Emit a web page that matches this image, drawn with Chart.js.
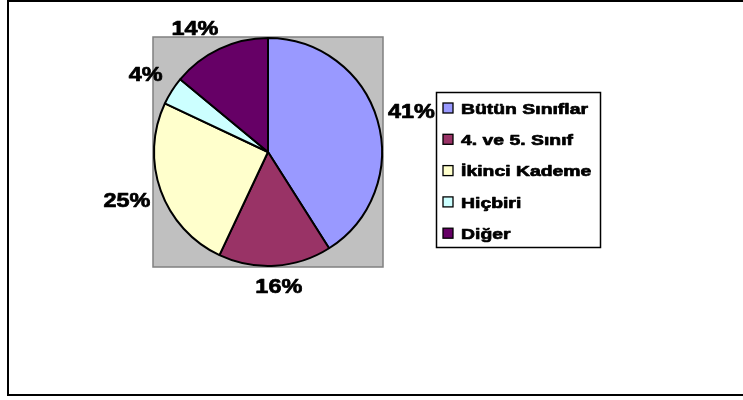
<!DOCTYPE html>
<html>
<head>
<meta charset="utf-8">
<script src="https://cdn.jsdelivr.net/npm/chart.js@4"></script>
<style>
    html, body { margin: 0; padding: 0; background: #fff; }
    #wrap { width: 743px; height: 400px; }
</style>
</head>
<body>
<div id="wrap"><canvas id="pieChart" width="743" height="400"></canvas></div>
<script>
const categories = ['Bütün Sınıflar', '4. ve 5. Sınıf', 'İkinci Kademe', 'Hiçbiri', 'Diğer'];
const shares = [41, 16, 25, 4, 14];
const sliceColors = ['#9999FF', '#993366', '#FFFFCC', '#CCFFFF', '#660066'];

const FONT = '"Liberation Sans", Arial, sans-serif';

// heavy, slightly widened text like the original
function wideText(ctx, txt, x, y, sx) {
    ctx.save();
    ctx.translate(x, y);
    ctx.scale(sx, 1);
    ctx.lineWidth = 0.7;
    ctx.strokeStyle = '#000';
    ctx.lineJoin = 'round';
    ctx.fillText(txt, 0, 0);
    ctx.strokeText(txt, 0, 0);
    ctx.restore();
}

// frame, grey plot area
const backdrop = {
    id: 'backdrop',
    beforeDraw(chart) {
        const ctx = chart.ctx;
        const area = chart.chartArea;
        ctx.save();
        ctx.fillStyle = '#fff';
        ctx.fillRect(0, 0, chart.width, chart.height);

        ctx.strokeStyle = '#000';
        ctx.lineWidth = 2;
        ctx.beginPath();
        ctx.moveTo(chart.width + 2, 1);
        ctx.lineTo(8, 1);
        ctx.lineTo(8, 395);
        ctx.lineTo(chart.width + 2, 395);
        ctx.stroke();

        ctx.fillStyle = '#C0C0C0';
        ctx.fillRect(area.left, area.top, area.width, area.height);
        ctx.strokeStyle = '#808080';
        ctx.lineWidth = 1.5;
        ctx.strokeRect(area.left, area.top, area.width, area.height);
        ctx.restore();
    }
};

// percent labels outside the pie, plus the boxed legend
const labelsAndLegend = {
    id: 'labelsAndLegend',
    afterDraw(chart) {
        const ctx = chart.ctx;
        const meta = chart.getDatasetMeta(0);
        const total = shares.reduce((a, b) => a + b, 0);
        const clamp = v => Math.max(-1, Math.min(1, v));
        ctx.save();
        ctx.fillStyle = '#000';
        ctx.font = 'bold 19.5px ' + FONT;
        ctx.textAlign = 'center';
        ctx.textBaseline = 'middle';
        const sx = 1.2;
        meta.data.forEach((arc, i) => {
            const p = arc.getProps(['x', 'y', 'startAngle', 'endAngle', 'outerRadius'], true);
            const mid = (p.startAngle + p.endAngle) / 2;
            const txt = Math.round(shares[i] / total * 100) + '%';
            const w = ctx.measureText(txt).width * sx;
            const c = Math.cos(mid), s = Math.sin(mid);
            const r = p.outerRadius + 11;
            const x = p.x + c * r + clamp(c * 2) * w / 2;
            const y = p.y + s * r + clamp(s * 2) * 10;
            wideText(ctx, txt, x, y + 1, sx);
        });

        // legend
        ctx.lineWidth = 1.5;
        ctx.strokeStyle = '#000';
        ctx.strokeRect(436.5, 92.5, 164, 155);
        ctx.font = 'bold 15.5px ' + FONT;
        ctx.textAlign = 'left';
        ctx.textBaseline = 'alphabetic';
        categories.forEach((name, i) => {
            const cy = 108 + i * 31.3;
            ctx.fillStyle = sliceColors[i];
            ctx.fillRect(443, cy - 5, 10, 10);
            ctx.lineWidth = 1.3;
            ctx.strokeStyle = '#000';
            ctx.strokeRect(443, cy - 5, 10, 10);
            ctx.fillStyle = '#000';
            wideText(ctx, name, 461, cy + 5.6, 1.25);
        });
        ctx.restore();
    }
};

const ctx = document.getElementById('pieChart').getContext('2d');
const pieChart = new Chart(ctx, {
    type: 'pie',
    data: {
        labels: categories,
        datasets: [{
            data: shares,
            backgroundColor: sliceColors,
            borderColor: '#000',
            borderWidth: 2
        }]
    },
    options: {
        responsive: false,
        animation: false,
        layout: {
            padding: { left: 153, top: 37, right: 360, bottom: 133 }
        },
        plugins: {
            legend: { display: false },
            tooltip: { enabled: false }
        }
    },
    plugins: [backdrop, labelsAndLegend]
});
</script>
</body>
</html>
